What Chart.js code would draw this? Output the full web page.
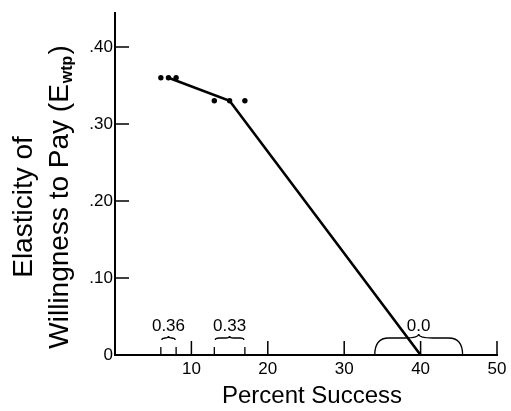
<!DOCTYPE html>
<html>
<head>
<meta charset="utf-8">
<script src="https://cdn.jsdelivr.net/npm/chart.js@4/dist/chart.umd.min.js"></script>
<style>
  html, body { margin: 0; padding: 0; background: #fff; }
  canvas { display: block; }
</style>
</head>
<body>
<canvas id="chart" width="511" height="411"></canvas>
<script>
// Data
const xTicks = [0, 10, 20, 30, 40, 50];
const xTickLabels = ['', '10', '20', '30', '40', '50'];
const yTicks = [0, 0.1, 0.2, 0.3, 0.4];
const yTickLabels = ['0', '.10', '.20', '.30', '.40'];

const obsX = [6, 7, 8, 13, 15, 17];
const obsY = [0.36, 0.36, 0.36, 0.33, 0.33, 0.33];

const fitX = [7, 15, 40];
const fitY = [0.36, 0.33, 0];

const rangeLabels = ['0.36', '0.33', '0.0'];
const rangeFrom = [6, 13, 34];
const rangeTo = [8, 17, 45.5];

const FONT = '"Liberation Sans", Arial, Helvetica, sans-serif';

const brace = (ctx, x1, x2, yBase, yTop, cusp, r) => {
    const mid = (x1 + x2) / 2;
    ctx.beginPath();
    ctx.moveTo(x1, yBase);
    ctx.quadraticCurveTo(x1, yTop, x1 + r, yTop);
    ctx.lineTo(mid - r, yTop);
    ctx.quadraticCurveTo(mid, yTop, mid, yTop - cusp);
    ctx.quadraticCurveTo(mid, yTop, mid + r, yTop);
    ctx.lineTo(x2 - r, yTop);
    ctx.quadraticCurveTo(x2, yTop, x2, yBase);
    ctx.stroke();
};

const extras = {
    id: 'extras',
    afterDraw(chart) {
        const { ctx, chartArea: a, scales: { x, y } } = chart;
        ctx.save();
        ctx.strokeStyle = '#000';
        ctx.fillStyle = '#000';

        // inward tick marks
        ctx.lineWidth = 1.5;
        ctx.beginPath();
        yTicks.forEach(v => {
            if (!v) return;
            const py = y.getPixelForValue(v);
            ctx.moveTo(a.left, py);
            ctx.lineTo(a.left + 14, py);
        });
        xTicks.forEach(v => {
            if (!v) return;
            const px = x.getPixelForValue(v);
            ctx.moveTo(px, a.bottom);
            ctx.lineTo(px, a.bottom - 14);
        });
        ctx.stroke();

        // range brackets with labels
        ctx.font = `17px ${FONT}`;
        ctx.textAlign = 'center';
        ctx.textBaseline = 'middle';
        rangeLabels.forEach((lab, i) => {
            const x1 = x.getPixelForValue(rangeFrom[i]);
            const x2 = x.getPixelForValue(rangeTo[i]);
            const base = y.getPixelForValue(0);
            ctx.fillText(lab, (x1 + x2) / 2, base - 29);
            ctx.lineWidth = 1.3;
            if (i < 2) {
                ctx.beginPath();
                ctx.moveTo(x1, base);
                ctx.lineTo(x1, base - 8);
                ctx.moveTo(x2, base);
                ctx.lineTo(x2, base - 8);
                ctx.stroke();
                brace(ctx, x1 + 1, x2 - 1, base - 15, base - 17, 2, 4);
            } else {
                brace(ctx, x1, x2, base, base - 17, 4, 14);
            }
        });

        // axis titles
        ctx.textBaseline = 'alphabetic';
        ctx.font = `24px ${FONT}`;
        ctx.fillText('Percent Success', 312, 403);

        ctx.font = `28px ${FONT}`;
        ctx.save();
        ctx.translate(32, 207);
        ctx.rotate(-Math.PI / 2);
        ctx.fillText('Elasticity of', 0, 0);
        ctx.restore();

        const main = 'Willingness to Pay (E';
        const sub = 'wtp';
        ctx.save();
        ctx.translate(68, 197);
        ctx.rotate(-Math.PI / 2);
        ctx.textAlign = 'left';
        ctx.font = `28px ${FONT}`;
        const wMain = ctx.measureText(main).width;
        const wClose = ctx.measureText(')').width;
        ctx.font = `bold 16px ${FONT}`;
        const wSub = ctx.measureText(sub).width;
        const start = -(wMain + wSub + wClose + 2) / 2;
        ctx.font = `28px ${FONT}`;
        ctx.fillText(main, start, 0);
        ctx.font = `bold 16px ${FONT}`;
        ctx.fillText(sub, start + wMain + 1, 4);
        ctx.font = `28px ${FONT}`;
        ctx.fillText(')', start + wMain + wSub + 2, 0);
        ctx.restore();

        ctx.restore();
    }
};

new Chart(document.getElementById('chart'), {
    type: 'scatter',
    data: {
        datasets: [
            {
                label: 'Observed',
                data: obsX.map((v, i) => ({ x: v, y: obsY[i] })),
                backgroundColor: '#000',
                borderWidth: 0,
                pointRadius: 2.7,
                showLine: false
            },
            {
                label: 'Fit',
                data: fitX.map((v, i) => ({ x: v, y: fitY[i] })),
                borderColor: '#000',
                borderWidth: 2.6,
                pointRadius: 0,
                showLine: true,
                tension: 0
            }
        ]
    },
    options: {
        responsive: false,
        animation: false,
        devicePixelRatio: 1,
        layout: { padding: { left: 0, right: 14, top: 13, bottom: 0 } },
        plugins: { legend: { display: false }, tooltip: { enabled: false } },
        scales: {
            x: {
                type: 'linear',
                min: 0,
                max: 50,
                afterBuildTicks: s => { s.ticks = xTicks.map(v => ({ value: v })); },
                afterFit: s => { s.height = 56; },
                ticks: {
                    callback: (v, i) => xTickLabels[i],
                    color: '#000',
                    font: { family: FONT, size: 17 },
                    padding: 4,
                    maxRotation: 0,
                    autoSkip: false
                },
                grid: { display: false, drawTicks: false },
                border: { display: true, color: '#000', width: 2 }
            },
            y: {
                type: 'linear',
                min: 0,
                max: 0.444,
                afterBuildTicks: s => { s.ticks = yTicks.map(v => ({ value: v })); },
                afterFit: s => { s.width = 115; },
                ticks: {
                    callback: (v, i) => yTickLabels[i],
                    color: '#000',
                    font: { family: FONT, size: 17 },
                    padding: 2,
                    autoSkip: false
                },
                grid: { display: false, drawTicks: false },
                border: { display: true, color: '#000', width: 2 }
            }
        }
    },
    plugins: [extras]
});
</script>
</body>
</html>
